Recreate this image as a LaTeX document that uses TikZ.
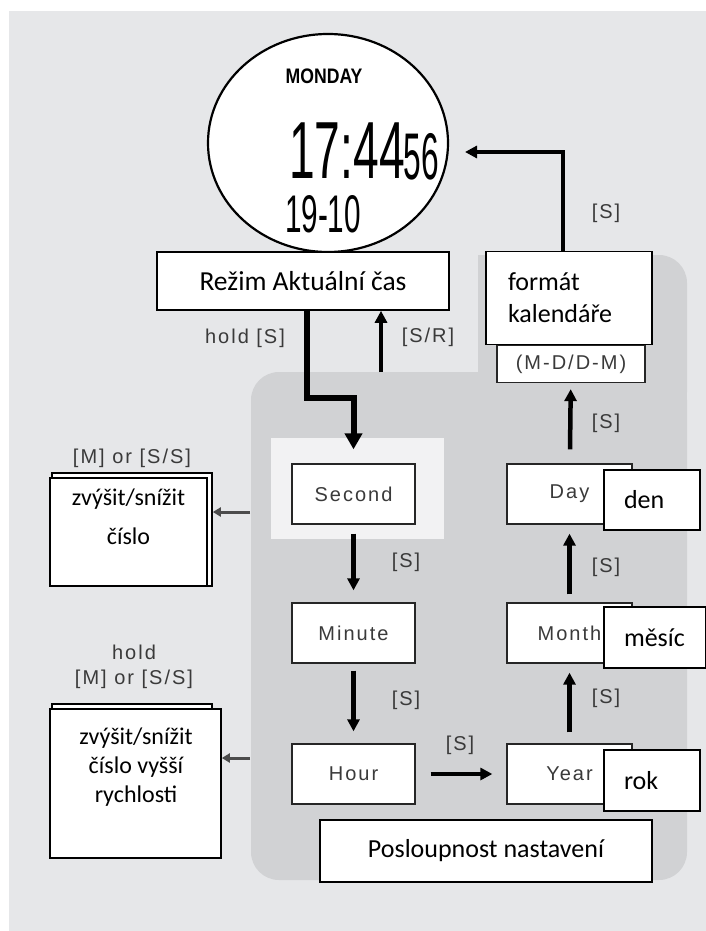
\documentclass[tikz,border=0pt]{standalone}
\usepackage{fontspec}
\setmainfont{Carlito}
\newfontfamily\lblfont[LetterSpace=10]{Liberation Sans}
\newfontfamily\lcdfont{Liberation Sans}
\usetikzlibrary{arrows.meta,shapes.geometric}
\definecolor{outergray}{HTML}{E6E7E9}
\definecolor{innergray}{HTML}{D1D2D4}
\definecolor{hilite}{HTML}{F2F2F3}
\definecolor{inkgray}{HTML}{3A3A3A}

\begin{document}
\begin{tikzpicture}[x=1pt,y=-1pt,
    czbox/.style={draw,line width=1.6pt,fill=white,font=\fontsize{26}{32}\selectfont},
    stepbox/.style={draw=black!85,line width=1.3pt,fill=white,minimum width=123,minimum height=60,
      font=\lblfont\fontsize{20}{24}\selectfont,text=inkgray},
    keylbl/.style={font=\lblfont\fontsize{20}{25}\selectfont,text=inkgray,align=center},
    flow/.style={line width=4.5pt,-{Triangle[length=12pt,width=12pt]}},
    holdflow/.style={line width=6pt,-{Triangle[length=16pt,width=17pt]}},
    sidearrow/.style={line width=3pt,draw=black!70,-{Triangle[length=8pt,width=9pt]}}]

      \useasboundingbox (0,0) rectangle (706,931);
      \fill[outergray] (9,11) rectangle (706,931);
      \fill[innergray,rounded corners=28pt] (251,372) rectangle (687,880);
      \fill[innergray,rounded corners=28pt] (478,255) rectangle (687,420);
      \fill[innergray] (478,255) rectangle (520,300);
      \fill[hilite] (271,438) rectangle (444,539);

      % watch face
      \node[draw,ellipse,line width=2.2pt,fill=white,minimum width=240,minimum height=218] (watch) at (328,143) {};
      \node[inner sep=0] (wday) at (324,76) {\lcdfont\bfseries\fontsize{21}{21}\selectfont\scalebox{0.84}[1]{MONDAY}};
      \node[inner sep=0] (wtime) at (347,151) {\lcdfont\fontsize{81}{81}\selectfont\scalebox{0.57}[1]{17:44}};
      \node[inner sep=0] (wsec) at (421,157) {\lcdfont\fontsize{66}{66}\selectfont\scalebox{0.48}[1]{56}};
      \node[inner sep=0] (wdate) at (323,214) {\lcdfont\fontsize{53}{53}\selectfont\scalebox{0.56}[1]{19-10}};
      \coordinate (backtip) at (465,152);

      \node[czbox,minimum width=292,minimum height=58,font=\fontsize{27.5}{32}\selectfont] (mode) at (303,281) {Režim Aktuální čas};
      \node[stepbox,minimum width=148,minimum height=37] (mdm) at (571,364) {(M-D/D-M)};
      \node[czbox,text width=122,inner xsep=22,minimum height=93,align=left] (fmt) at (569,298) {formát\\kalendáře};

      % setting sequence
      \node[stepbox] (second) at (353.5,494) {Second};
      \node[stepbox] (minute) at (353.5,633) {Minute};
      \node[stepbox] (hour) at (353.5,774) {Hour};
      \node[stepbox,minimum width=125] (day) at (569.5,494) {Day};
      \node[stepbox,minimum width=125] (month) at (569.5,633) {Month};
      \node[stepbox,minimum width=125] (year) at (569.5,774) {Year};

      \node[czbox,text width=56,inner xsep=20,minimum height=60,align=left] (den) at (652,500) {den};
      \node[czbox,text width=62,inner xsep=20,minimum height=61,align=left] (mesic) at (655,637.5) {měsíc};
      \node[czbox,text width=56,inner xsep=20,minimum height=61,align=left] (rok) at (652,780.5) {rok};
      \node[czbox,minimum width=332,minimum height=62] (order) at (486,851) {Posloupnost nastavení};

      % left boxes
      \draw[line width=1.6pt,fill=white] (52,473) rectangle (212,586);
      \node[czbox,minimum width=157,minimum height=108] (inc) at (128.5,532) {};
      \node[align=center,font=\fontsize{24}{39}\selectfont] (inctext) at (128.5,517) {zvýšit/snížit\\číslo};
      \draw[line width=1.6pt,fill=white] (52,704) rectangle (212,760);
      \node[czbox,minimum width=171,minimum height=149] (fast) at (135.5,783.5) {};
      \node[align=center,font=\fontsize{24}{29}\selectfont] (fasttext) at (136,767) {zvýšit/snížit\\číslo vyšší\\rychlosti};

      \node[keylbl] (inckey) at (132,458) {[M] or [S/S]};
      \node[keylbl] (fastkey) at (134,667) {hold\\{}[M] or [S/S]};
      \node[keylbl] (holdkey) at (245,338) {hold [S]};
      \node[keylbl] (srkey) at (428,337) {[S/R]};
      \node[keylbl] (s1) at (606,213) {[S]};
      \node[keylbl] (s2) at (406,562) {[S]};
      \node[keylbl] (s3) at (406,700) {[S]};
      \node[keylbl] (s4) at (460,745) {[S]};
      \node[keylbl] (s5) at (606,698) {[S]};
      \node[keylbl] (s6) at (606,567) {[S]};
      \node[keylbl] (s7) at (606,423) {[S]};

      % connectors
      \coordinate (srfoot) at (381,372);
      \coordinate (incfoot) at (250,512);
      \coordinate (fastfoot) at (250,758);
      \draw[flow] ([xshift=-6pt]fmt.north) |- (backtip);
      \draw[holdflow,shorten >=14pt] ([xshift=4pt]mode.south) -- ++(0,87) -| (second.north);
      \draw[flow] (srfoot) -- (srfoot |- mode.south);
      \draw[flow,shorten <=9pt,shorten >=12pt] (second) -- (minute);
      \draw[flow,shorten <=7pt,shorten >=12pt] (minute) -- (hour);
      \draw[flow,shorten <=15pt,shorten >=14pt] (hour) -- (year);
      \draw[flow,shorten <=11pt,shorten >=9pt] (year) -- (month);
      \draw[flow,shorten <=8pt,shorten >=9pt] (month) -- (day);
      \draw[flow,shorten <=14pt,shorten >=6pt] (day) -- (mdm);
      \draw[sidearrow,shorten >=5pt] (incfoot) -- (incfoot -| inc.east);
      \draw[sidearrow] (fastfoot) -- (fastfoot -| fast.east);
\end{tikzpicture}
\end{document}
